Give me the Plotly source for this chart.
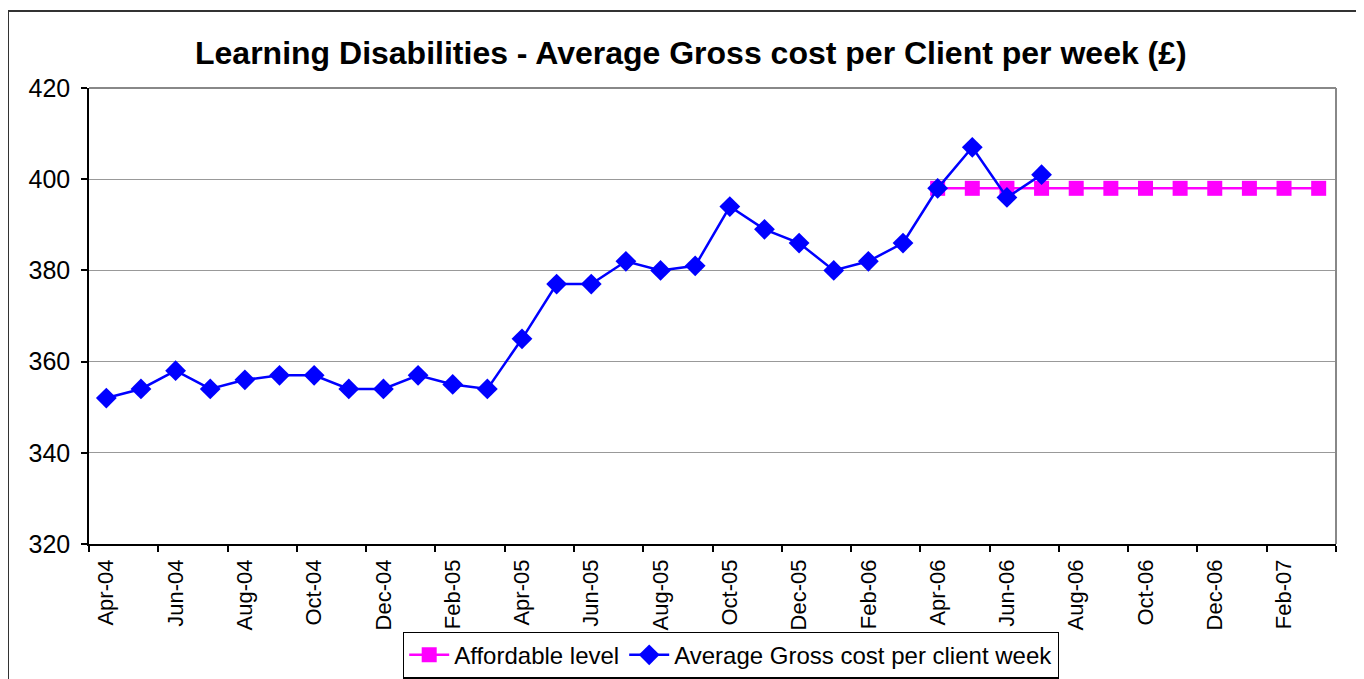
import plotly.graph_objects as go

months = ["Apr-04","May-04","Jun-04","Jul-04","Aug-04","Sep-04","Oct-04","Nov-04","Dec-04","Jan-05","Feb-05","Mar-05",
          "Apr-05","May-05","Jun-05","Jul-05","Aug-05","Sep-05","Oct-05","Nov-05","Dec-05","Jan-06","Feb-06","Mar-06",
          "Apr-06","May-06","Jun-06","Jul-06","Aug-06","Sep-06","Oct-06","Nov-06","Dec-06","Jan-07","Feb-07","Mar-07"]

avg_cost = [352, 354, 358, 354, 356, 357, 357, 354, 354, 357, 355, 354,
            365, 377, 377, 382, 380, 381, 394, 389, 386, 380, 382, 386,
            398, 407, 396, 401]

affordable_start = "Apr-06"
affordable = [398]*12  # Apr-06 .. Mar-07 constant level

idx = {m: i for i, m in enumerate(months)}
x_avg = [idx[m] for m in months[:len(avg_cost)]]
s = idx[affordable_start]
x_aff = [idx[m] for m in months[s:s+len(affordable)]]

FONT = "Liberation Sans, Arial, sans-serif"

fig = go.Figure()
fig.add_trace(go.Scatter(x=x_aff, y=affordable, name="Affordable level", mode="lines+markers",
                         line=dict(color="#FF00FF", width=2.5),
                         marker=dict(symbol="square", size=15, color="#FF00FF")))
fig.add_trace(go.Scatter(x=x_avg, y=avg_cost, name="Average Gross cost per client week", mode="lines+markers",
                         line=dict(color="#0000FF", width=2.5),
                         marker=dict(symbol="diamond", size=16, color="#0000FF")))

# target pixel positions in the screenshot; page content is offset by body margin
OX, OY = 7, 7
W, H = 1364 - OX, 679 - OY
L = 88 - OX
T = 87 - OY
R = W - (1335 - OX)
B = H - (543 - OY)
pw, ph = W - L - R, H - T - B

def px(xs):
    return (xs - OX - L) / pw
def py(ys):
    return (H - B - (ys - OY)) / ph
def cy(ys):
    return 1 - (ys - OY) / H
def cx(xs):
    return (xs - OX) / W

fig.update_layout(
    template="none",
    width=W, height=H,
    margin=dict(l=L, r=R, t=T, b=B, autoexpand=False),
    paper_bgcolor="white", plot_bgcolor="white",
    font=dict(family=FONT, color="black"),
    showlegend=True,
    legend=dict(orientation="h", xref="container", yref="container", x=cx(730), xanchor="center",
                y=cy(654), yanchor="middle",
                font=dict(size=24, family=FONT), bordercolor="black", borderwidth=1.2,
                bgcolor="white", traceorder="normal", itemwidth=40),
    xaxis=dict(range=[-0.5, len(months) - 0.5], tickmode="array",
               tickvals=list(range(0, len(months), 2)), ticktext=months[0::2],
               tickangle=-90, tickfont=dict(size=22, family=FONT), ticks="", automargin=False,
               ticklabelstandoff=5,
               showgrid=False, zeroline=False, showline=True, linecolor="black", linewidth=1.5,
               minor=dict(ticks="outside", tick0=-0.5, dtick=2, ticklen=6, tickcolor="black",
                          tickwidth=1.5, showgrid=False),
               mirror=False),
    yaxis=dict(range=[320, 420], dtick=20, tick0=320, ticks="outside", ticklen=6, tickcolor="black",
               tickwidth=1.5, tickfont=dict(size=25, family=FONT), showgrid=True, gridcolor="#999999",
               gridwidth=1, zeroline=False, showline=True, linecolor="black", linewidth=1.5,
               automargin=False, ticklabelstandoff=6),
    annotations=[dict(text="<b>Learning Disabilities - Average Gross cost per Client per week (£)</b>",
                      xref="paper", yref="paper", x=px(690), y=py(52), xanchor="center", yanchor="middle",
                      showarrow=False, font=dict(size=32, family=FONT, color="black"))],
    shapes=[
        dict(type="line", xref="paper", yref="paper", x0=0, x1=1, y0=1, y1=1, line=dict(color="#888888", width=2)),
        dict(type="line", xref="paper", yref="paper", x0=1, x1=1, y0=0, y1=1, line=dict(color="#888888", width=2)),
        dict(type="rect", xref="paper", yref="paper", x0=px(7), x1=px(1400), y0=py(720), y1=py(10),
             line=dict(color="#333333", width=2), layer="below"),
    ],
)

fig.write_html("out.html")
